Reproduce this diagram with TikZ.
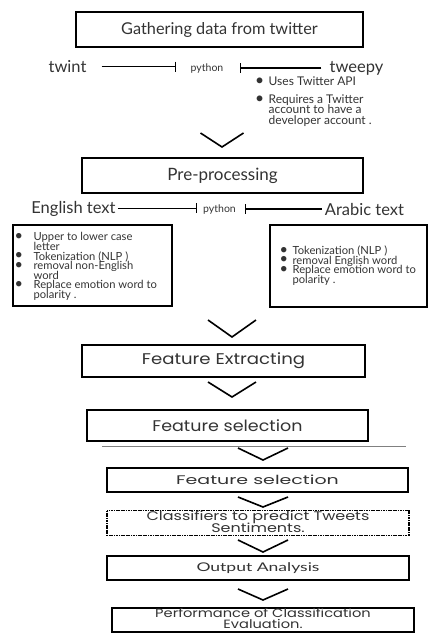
\documentclass[tikz,border=0pt]{standalone}
\usepackage{graphicx}
\usepackage{fontspec}
\setmainfont{Lato}
\newfontfamily\popfont{Poppins}
\usetikzlibrary{arrows.meta}
\newcommand\blt[1]{\makebox[#1][l]{\raisebox{0.3pt}{\scalebox{1.3}{\textbullet}}}}
\newcommand\tightlines{\lineskiplimit=-20pt\relax}

\begin{document}
\begin{tikzpicture}[x=1pt, y=-1pt,
	box/.style={draw, line width=1.4pt, inner sep=0pt, text=black!80},
	lab/.style={inner sep=0pt, text=black!80},
	list/.style={lab, align=left, font={\fontsize{11.2}{9.6}\selectfont\tightlines}},
	bar/.style={-{Bar[width=10pt, line width=1pt]}, line width=0.9pt},
	chev/.style={line width=1.6pt}]
	\useasboundingbox (0,0) rectangle (429,640);

	% data collection
	\node[box, minimum width=287pt, minimum height=35pt, font=\fontsize{16.3}{20}\selectfont] (gather) at (219.5,29.5) {Gathering data from twitter};
	\node[lab, anchor=base, font=\fontsize{16.5}{18}\selectfont] (twint) at (67.5,72.5) {twint};
	\node[lab, anchor=base, font=\fontsize{10.5}{12}\selectfont] (pyA) at (207,71) {python};
	\node[lab, anchor=base, font=\fontsize{16.5}{18}\selectfont] (tweepy) at (356.5,72) {tweepy};
	\draw[bar, shorten <=15pt, shorten >=15pt] (twint.east) -- (twint.east -| pyA.west);
	\draw[bar, line width=1.5pt, shorten <=8pt, shorten >=16pt] (tweepy.west) -- (tweepy.west -| pyA.east);
	\node[list, anchor=north west, font={\fontsize{12}{10.3}\selectfont\tightlines}] (api) at (255,76.5) {%
		\blt{13.5pt}Uses Twitter API\\[7.7pt]
		\blt{13.5pt}Requires a Twitter\\
		\hspace*{13.5pt}account to have a\\
		\hspace*{13.5pt}developer account .};

	% pre-processing
	\node[box, minimum width=281pt, minimum height=35pt, font=\fontsize{17}{20}\selectfont] (pre) at (222.5,175.5) {Pre-processing};
	\node[lab, anchor=base, font=\fontsize{16.5}{18}\selectfont] (eng) at (73.5,213) {English text};
	\node[lab, anchor=base, font=\fontsize{10.5}{12}\selectfont] (pyB) at (219.5,212) {python};
	\node[lab, anchor=base, font=\fontsize{16.5}{18}\selectfont] (arb) at (364.5,215) {Arabic text};
	\draw[bar, shorten <=2pt, shorten >=6pt] (eng.east) -- (eng.east -| pyB.west);
	\draw[bar, line width=1.5pt, shorten <=3pt, shorten >=9pt] (arb.west) -- (arb.west -| pyB.east);

	\node[box, line width=1.2pt, minimum width=159pt, minimum height=81pt] (engbox) at (92.5,265.5) {};
	\node[list, anchor=west] (englist) at ([xshift=2pt, yshift=-1pt]engbox.west) {%
		\blt{19pt}Upper to lower case\\
		\hspace*{19pt}letter\\
		\blt{19pt}Tokenization (NLP )\\
		\blt{19pt}removal non-English\\
		\hspace*{19pt}word\\
		\blt{19pt}Replace emotion word to\\
		\hspace*{19pt}polarity .};
	\node[box, line width=1.2pt, minimum width=157pt, minimum height=82pt] (arbbox) at (348.5,266) {};
	\node[list, anchor=west] (arblist) at ([xshift=10pt, yshift=0.5pt]arbbox.west) {%
		\blt{13pt}Tokenization (NLP )\\
		\blt{13pt}removal English word\\
		\blt{13pt}Replace emotion word to\\
		\hspace*{13pt}polarity .};

	% model steps
	\node[box, minimum width=283pt, minimum height=32pt, font=\popfont\fontsize{15.5}{18}\selectfont] (fext) at (223.5,361) {\scalebox{1.17}[1]{Feature Extracting}};
	\node[box, minimum width=281pt, minimum height=31pt, font=\popfont\fontsize{15.5}{18}\selectfont] (fselA) at (227.5,425.5) {\scalebox{1.13}[1]{Feature selection}};
	\draw[black!50, line width=0.6pt] (102,446) -- (406,446);
	\node[box, line width=1.3pt, minimum width=301pt, minimum height=24pt, font=\popfont\fontsize{12.5}{14}\selectfont] (fselB) at (257.5,480) {\scalebox{1.52}[1]{Feature selection}};
	\node[box, line width=1.3pt, dash pattern=on 1.2pt off 0.5pt, minimum width=302pt, minimum height=24pt, font=\popfont\fontsize{12.5}{11}\selectfont] (clf) at (258,523) {\raisebox{-4pt}{\scalebox{1.28}[1]{\begin{tabular}{@{}c@{}}Classifiers to predict Tweets\\[-1pt]Sentiments.\end{tabular}}}};
	\node[box, line width=1.3pt, minimum width=302pt, minimum height=24pt, font=\fontsize{12}{13}\selectfont] (out) at (258,568) {\scalebox{1.46}[1]{Output Analysis}};
	\node[box, line width=1.3pt, minimum width=302pt, minimum height=24pt, font=\popfont\fontsize{12}{10}\selectfont] (perf) at (263,620) {\raisebox{-4.5pt}{\scalebox{1.22}[1]{\begin{tabular}{@{}c@{}}Performance of Classification\\[-1pt]Evaluation.\end{tabular}}}};

	% chevrons
	\foreach \cx/\cy/\hw/\dp in {222/133/21.5/14, 232/320/24/17, 232/382/24/15,
		263/448/25/12, 263/497/25/10, 263/540/25/12, 263/589/25/11}
		\draw[chev] (\cx-\hw,\cy) -- (\cx,\cy+\dp) -- (\cx+\hw,\cy);
\end{tikzpicture}
\end{document}
